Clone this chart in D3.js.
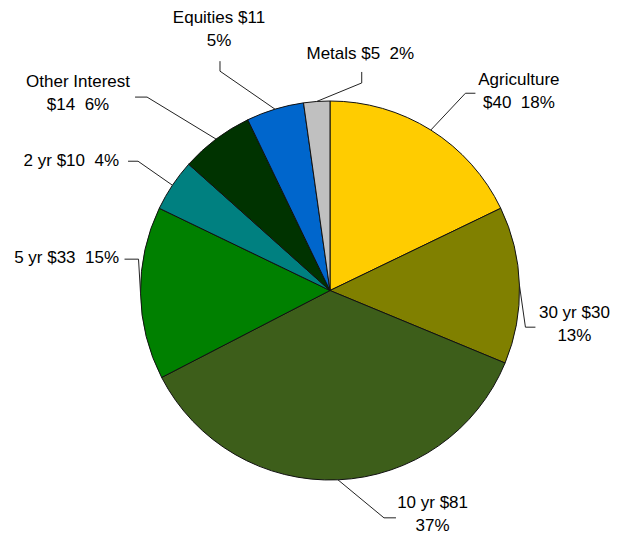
<!DOCTYPE html>
<html>
<head>
<meta charset="utf-8">
<script src="https://cdn.jsdelivr.net/npm/d3@7"></script>
<style>
  html, body { margin: 0; padding: 0; background: #fff; }
  svg { display: block; }
  text { font-family: "Liberation Sans", Arial, sans-serif; font-size: 17px; fill: #000; white-space: pre; }
</style>
</head>
<body>
<svg id="chart" width="628" height="538"></svg>
<script>
// Holdings by sector, in dollars, clockwise from 12 o'clock
const categories = ["Agriculture", "30 yr", "10 yr", "5 yr", "2 yr", "Other Interest", "Equities", "Metals"];
const values = [40, 30, 81, 33, 10, 14, 11, 5];
const percentLabels = ["18%", "13%", "37%", "15%", "4%", "6%", "5%", "2%"];
const colors = ["#ffcc00", "#808000", "#3d5e1a", "#008000", "#008080", "#003300", "#0066cc", "#c0c0c0"];

// How each label is broken into lines: "2" = name / value+pct, "n" = name+value / pct, "1" = single line
const labelSplit = ["2", "n", "n", "1", "1", "2", "n", "1"];

// Leader geometry per slice: elbow offset from the arc anchor, then a short tail,
// then the first text baseline relative to the tail end
const leaderLayout = [
  { elbow: [34.6, -36.8], tail: [10, 0],   text: [43.5, -8],  anchor: "middle" }, // Agriculture
  { elbow: [6, 42],       tail: [10, 0],   text: [39, -9],    anchor: "middle" }, // 30 yr
  { elbow: [46, 38],      tail: [12, 0],   text: [36.6, -10], anchor: "middle" }, // 10 yr
  { elbow: [-2, -34],     tail: [-14, 0],  text: [-5.5, 4],   anchor: "end" },    // 5 yr
  { elbow: [-34.4, -24],  tail: [-10, 0],  text: [-9, 5],     anchor: "end" },    // 2 yr
  { elbow: [-69, -42],    tail: [-12, 0],  text: [-57, -10],  anchor: "middle" }, // Other Interest
  { elbow: [-55, -38],    tail: [0, -10],  text: [-1, -38],   anchor: "middle" }, // Equities
  { elbow: [45, -18.5],   tail: [0, -11],  text: [-1.4, -12.7], anchor: "middle" } // Metals
];
const lineGap = 22.7;

const data = categories.map((c, i) => ({
  name: c, value: values[i], pct: percentLabels[i], color: colors[i],
  split: labelSplit[i], layout: leaderLayout[i]
}));

const svg = d3.select("#chart");
const cx = 330, cy = 290.5, radius = 189.5;
const g = svg.append("g").attr("transform", `translate(${cx},${cy})`);

const pie = d3.pie().value(d => d.value).sort(null);
const arc = d3.arc().innerRadius(0).outerRadius(radius);
const arcs = pie(data);

g.selectAll("path.slice")
  .data(arcs)
  .join("path")
  .attr("class", "slice")
  .attr("d", arc)
  .attr("fill", d => d.data.color)
  .attr("stroke", "#111")
  .attr("stroke-width", 1)
  .attr("stroke-linejoin", "round");

// Leader lines and labels
const labels = g.selectAll("g.label").data(arcs).join("g").attr("class", "label");

function anchorPoint(d) {
  const a = (d.startAngle + d.endAngle) / 2;
  return [radius * Math.sin(a), -radius * Math.cos(a)];
}

labels.append("polyline")
  .attr("points", d => {
    const p0 = anchorPoint(d);
    const L = d.data.layout;
    const p1 = [p0[0] + L.elbow[0], p0[1] + L.elbow[1]];
    const p2 = [p1[0] + L.tail[0], p1[1] + L.tail[1]];
    return [p0, p1, p2].map(p => p.join(",")).join(" ");
  })
  .attr("fill", "none")
  .attr("stroke", "#222")
  .attr("stroke-width", 1);

labels.each(function(d) {
  const p0 = anchorPoint(d);
  const L = d.data.layout;
  const tx = p0[0] + L.elbow[0] + L.tail[0] + L.text[0];
  const ty = p0[1] + L.elbow[1] + L.tail[1] + L.text[1];
  let lines;
  if (d.data.split === "2") lines = [d.data.name, `$${d.data.value}  ${d.data.pct}`];
  else if (d.data.split === "n") lines = [`${d.data.name} $${d.data.value}`, d.data.pct];
  else lines = [`${d.data.name} $${d.data.value}  ${d.data.pct}`];
  const t = d3.select(this).append("text")
    .attr("text-anchor", L.anchor)
    .attr("x", tx).attr("y", ty);
  lines.forEach((s, i) => {
    t.append("tspan").attr("x", tx).attr("dy", i === 0 ? 0 : lineGap).text(s);
  });
});
</script>
</body>
</html>
